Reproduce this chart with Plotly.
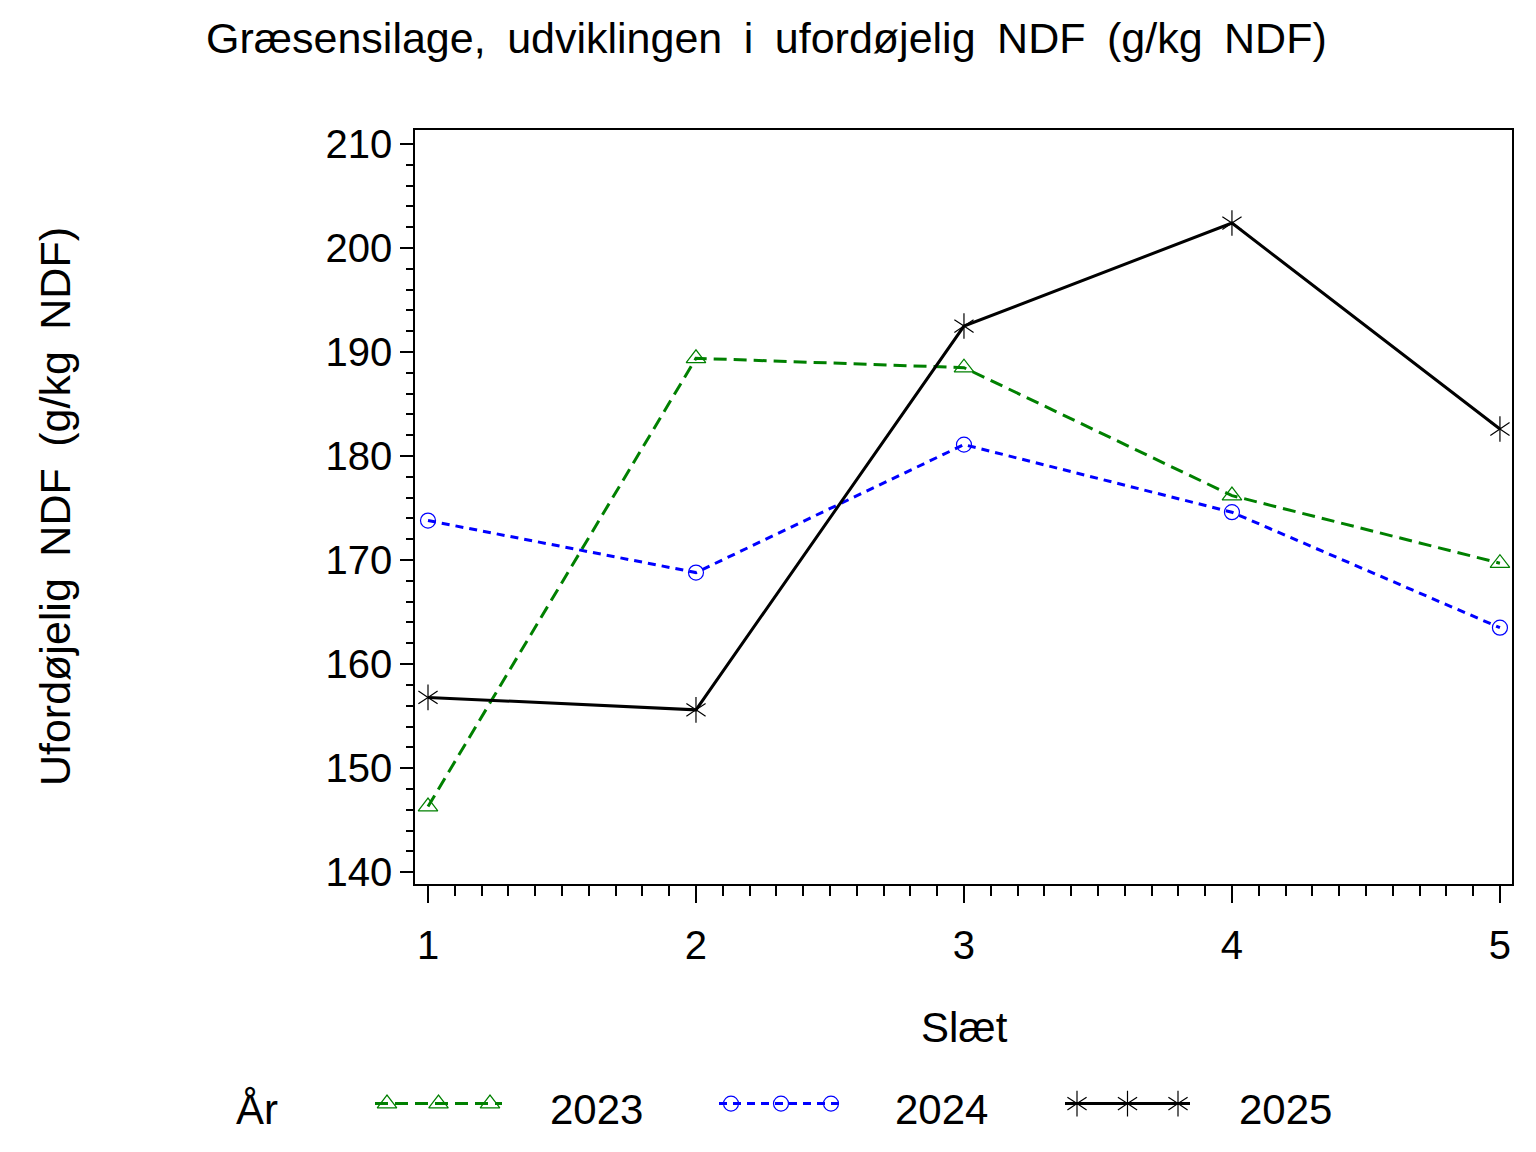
import plotly.graph_objects as go

# ---- data ----
slaet = [1, 2, 3, 4, 5]
years = ["2023", "2024", "2025"]
ndf_2023 = [146.3, 189.4, 188.5, 176.2, 169.7]
ndf_2024 = [173.8, 168.8, 181.1, 174.6, 163.5]
ndf_2025 = [156.8, 155.6, 192.5, 202.4, 182.6]
y_ticks = [140, 150, 160, 170, 180, 190, 200, 210]
x_ticks = [1, 2, 3, 4, 5]

SP = "\u2002"
title_text = SP.join(["Græsensilage,", "udviklingen", "i", "ufordøjelig", "NDF", "(g/kg", "NDF)"])
ytitle_text = SP.join(["Ufordøjelig", "NDF", "(g/kg", "NDF)"])
xtitle_text = "Slæt"
legend_title = "År"

W, H = 1536, 1152
FONT = "Liberation Sans, Arial, sans-serif"

styles = {
    "2023": dict(color="#008000", dash="13px,7px", symbols=["triangle-up-open"], size=17),
    "2024": dict(color="#0000FF", dash="8px,6px", symbols=["circle-open"], size=15),
    "2025": dict(color="#000000", dash="solid", symbols=["y-up-open", "y-down-open"], size=16),
}
series = {"2023": ndf_2023, "2024": ndf_2024, "2025": ndf_2025}


def add_series(fig, xs, ys, s, xa, ya):
    fig.add_trace(go.Scatter(
        x=xs, y=ys, mode="lines",
        line=dict(color=s["color"], width=3, dash=s["dash"]),
        showlegend=False, xaxis=xa, yaxis=ya, hoverinfo="skip",
    ))


def add_markers(fig, xs, ys, s, xa, ya):
    for sym in s["symbols"]:
        fig.add_trace(go.Scatter(
            x=xs, y=ys, mode="markers",
            marker=dict(symbol=sym, size=s["size"], color=s["color"],
                        line=dict(color=s["color"], width=1.2)),
            showlegend=False, xaxis=xa, yaxis=ya,
        ))


fig = go.Figure()
for yr in years:
    add_series(fig, slaet, series[yr], styles[yr], "x", "y")
for yr in years:
    add_markers(fig, slaet, series[yr], styles[yr], "x", "y")

# ---- legend drawn on a separate pixel-coordinate axis strip at the bottom ----
LEG_TOP, LEG_BOT = 1080, 1150
leg_y = 1113
leg_lines = {"2023": (375, 502), "2024": (719, 843), "2025": (1065, 1190)}
leg_label_x = {"2023": 596, "2024": 941, "2025": 1285}
leg_label_y = 1119
for yr in years:
    x0, x1 = leg_lines[yr]
    add_series(fig, [x0, x1], [leg_y, leg_y], styles[yr], "x2", "y2")
    add_markers(fig, [x0 + 12, (x0 + x1) / 2, x1 - 12], [leg_y] * 3, styles[yr], "x2", "y2")

annotations = [
    dict(text=title_text, x=766 / W, y=1 - 30 / H, xref="paper", yref="paper",
         showarrow=False, font=dict(size=43, family=FONT, color="black"),
         xanchor="center", yanchor="middle"),
    dict(text=ytitle_text, x=55 / W, y=1 - 507 / H, xref="paper", yref="paper",
         showarrow=False, textangle=-90, font=dict(size=43, family=FONT, color="black"),
         xanchor="center", yanchor="middle"),
    dict(text=xtitle_text, x=964 / W, y=1 - 1036 / H, xref="paper", yref="paper",
         showarrow=False, font=dict(size=42, family=FONT, color="black"),
         xanchor="center", yanchor="middle"),
    dict(text=legend_title, x=257 / W, y=1 - leg_label_y / H, xref="paper", yref="paper",
         showarrow=False, font=dict(size=42, family=FONT, color="black"),
         xanchor="center", yanchor="middle"),
]
for yr in years:
    annotations.append(dict(text=yr, x=leg_label_x[yr] / W, y=1 - leg_label_y / H,
                            xref="paper", yref="paper", showarrow=False,
                            font=dict(size=42, family=FONT, color="black"),
                            xanchor="center", yanchor="middle"))

PLOT_TOP, PLOT_BOT = 124, 890

fig.update_layout(
    width=W, height=H,
    margin=dict(l=0, r=0, t=0, b=0),
    paper_bgcolor="white", plot_bgcolor="rgba(0,0,0,0)",
    font=dict(family=FONT, color="black"),
    annotations=annotations,
    xaxis=dict(
        domain=[415 / W, 1512 / W], range=[0.9515, 5.045],
        tickmode="array", tickvals=x_ticks, ticktext=[str(v) for v in x_ticks],
        ticks="outside", ticklen=17, tickwidth=1.5, tickcolor="black",
        minor=dict(dtick=0.1, tick0=1, ticks="outside", ticklen=10, tickwidth=1.5, tickcolor="black"),
        showline=True, linecolor="black", linewidth=1.5, mirror=True,
        showgrid=False, zeroline=False,
        tickfont=dict(size=40, family=FONT, color="black"),
        ticklabelstandoff=8,
        anchor="y",
    ),
    yaxis=dict(
        domain=[1 - PLOT_BOT / H, 1 - PLOT_TOP / H], range=[138.85, 211.34],
        tickmode="array", tickvals=y_ticks, ticktext=[str(v) for v in y_ticks],
        ticks="outside", ticklen=13, tickwidth=1.5, tickcolor="black",
        minor=dict(dtick=2, tick0=140, ticks="outside", ticklen=7, tickwidth=1.5, tickcolor="black"),
        showline=True, linecolor="black", linewidth=1.5, mirror=True,
        showgrid=False, zeroline=False,
        tickfont=dict(size=40, family=FONT, color="black"),
        anchor="x",
    ),
    xaxis2=dict(domain=[0, 1], range=[0, W], visible=False, anchor="y2", fixedrange=True),
    yaxis2=dict(domain=[1 - LEG_BOT / H, 1 - LEG_TOP / H], range=[LEG_BOT, LEG_TOP],
                visible=False, anchor="x2", fixedrange=True),
)

fig.write_html(
    "out.html",
    config={"displayModeBar": False},
    post_script="document.body.style.margin='0px';document.body.style.overflow='hidden';",
)
